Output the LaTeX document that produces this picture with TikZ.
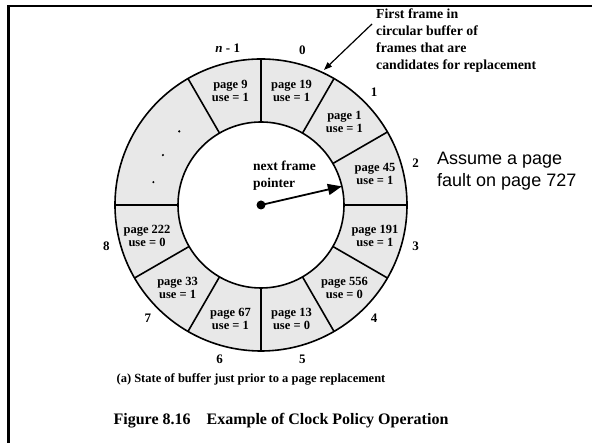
\documentclass[tikz,border=0pt]{standalone}
\usepackage{fontspec}
\setmainfont{Liberation Serif}
\newfontfamily\sansfont{Liberation Sans}
\usetikzlibrary{arrows.meta, positioning, calc}

\tikzset{
  ring/.style={line width=1.6pt},
  cell/.style={font=\fontsize{12.5}{13}\selectfont\bfseries, align=center, inner sep=0pt},
  slotnum/.style={font=\fontsize{13}{15}\selectfont\bfseries, inner sep=0pt},
  remark/.style={anchor=west, align=left, inner sep=0pt},
}

\begin{document}
\begin{tikzpicture}[x=1pt, y=1pt]
  \useasboundingbox (0,0) rectangle (592,443);
  % Frame
  \draw[line width=2.5pt] (8.7,0) -- (8.7,437) -- (592,437);

  % Ring of frames
  \coordinate (c) at (261,238);
  \fill[gray!18] (c) circle (146);
  \fill[white] (c) circle (83);
  \draw[ring] (c) circle (146);
  \draw[ring] (c) circle (83);
  \foreach \a in {0,30,60,90,120,180,210,240,270,300,330}
    \draw[ring] ($(c)+(\a:83)$) -- ($(c)+(\a:146)$);

  % Nodes
  \foreach \a/\p/\u [count=\i] in {75/19/1, 45/1/1, 15/45/1, -15/191/1, -45/556/0,
      -75/13/0, -105/67/1, -135/33/1, -165/222/0, 105/9/1}
    \node (cell\i) [cell] at ($(c)+(\a:118)$) {page \p\\use = \u};
  \foreach \a/\t [count=\i] in {75/0, 45/1, 15/2, -15/3, -45/4, -75/5, -105/6, -135/7, -165/8}
    \node (num\i) [slotnum] at ($(c)+(\a:160)$) {\t};
  \node (numlast) [slotnum] at ($(c)+(102:160)$) {\textit{n} - 1};
  \foreach \a in {138,153,168}
    \fill ($(c)+(\a:110)$) circle (1.2);

  \node (hub) [circle, fill, inner sep=0pt, minimum size=9pt] at (c) {};
  \coordinate (tip) at ($(c)+(13:83)$);
  \node (ptrlabel) [remark, font=\fontsize{13.5}{17}\selectfont\bfseries] at (253,267) {next frame\\pointer};

  \node (first) [remark, font=\fontsize{13.8}{17}\selectfont\bfseries] at (376,402)
    {First frame in\\circular buffer of\\frames that are\\candidates for replacement};
  \coordinate (tail) at (372,419);
  \coordinate (head) at ($(c)+(65:149)$);

  \node (fault) [remark, font=\sansfont\fontsize{18}{22}\selectfont] at (437,272) {Assume a page\\fault on page 727};

  \node (sub) [font=\fontsize{12.5}{14}\selectfont\bfseries] at (251,64)
    {(a) State of buffer just prior to a page replacement};
  \node (title) [font=\fontsize{16}{18}\selectfont\bfseries] at (281,22)
    {Figure 8.16\quad Example of Clock Policy Operation};

  % Arrows
  \draw[line width=1.8pt, -{Triangle[length=14pt, width=11pt]}] (hub.center) -- (tip);
  \draw[line width=1.2pt, -{Triangle[length=8pt, width=6pt]}] (tail) -- (head);
\end{tikzpicture}
\end{document}
